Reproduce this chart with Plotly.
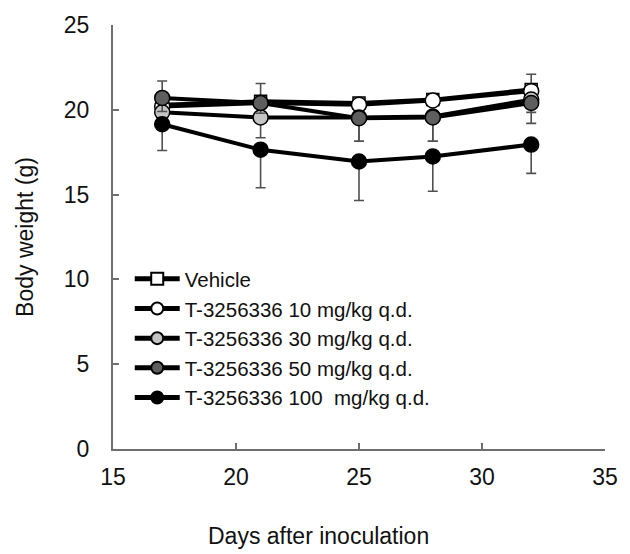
import plotly.graph_objects as go

# Measurement days and mean body weight (g) per group
days = [17, 21, 25, 28, 32]

vehicle = [20.3, 20.5, 20.4, 20.6, 21.2]
t10 = [20.2, 20.4, 20.3, 20.55, 21.1]
t30 = [19.85, 19.55, 19.55, 19.6, 20.6]
t50 = [20.7, 20.4, 19.5, 19.55, 20.4]
t100 = [19.15, 17.65, 16.95, 17.25, 17.95]

# One-sided SD error bars
vehicle_sd_plus = [1.4, 1.05, 0.3, 0.3, 0.9]
t30_sd_minus = [0.9, 1.2, 1.4, 1.45, 1.4]
t50_sd_minus = [0.8, 0.6, 1.35, 1.4, 0.55]
t100_sd_minus = [1.55, 2.25, 2.3, 2.05, 1.7]

names = [
    "Vehicle",
    "T-3256336 10 mg/kg q.d.",
    "T-3256336 30 mg/kg q.d.",
    "T-3256336 50 mg/kg q.d.",
    "T-3256336 100  mg/kg q.d.",
]

x_ticks = [15, 20, 25, 30, 35]
y_ticks = [0, 5, 10, 15, 20, 25]

FONT = "Liberation Sans, Arial, sans-serif"
ERR_COLOR = "#505050"
AXIS_COLOR = "#6e6e6e"

fig = go.Figure()


def add_series(name, y, symbol, fill, size, plus=None, minus=None):
    err = None
    if plus is not None or minus is not None:
        err = dict(
            type="data",
            symmetric=False,
            array=plus if plus is not None else [0] * len(y),
            arrayminus=minus if minus is not None else [0] * len(y),
            color=ERR_COLOR,
            thickness=1.6,
            width=5,
        )
    fig.add_trace(
        go.Scatter(
            x=days,
            y=y,
            name=name,
            mode="lines+markers",
            line=dict(color="black", width=4),
            marker=dict(symbol=symbol, size=size, color=fill,
                        line=dict(color="black", width=1.5)),
            error_y=err,
        )
    )


add_series(names[0], vehicle, "square", "white", 12, plus=vehicle_sd_plus)
add_series(names[1], t10, "circle", "white", 15)
add_series(names[2], t30, "circle", "#c4c4c4", 15, minus=t30_sd_minus)
add_series(names[3], t50, "circle", "#5e5e5e", 15, minus=t50_sd_minus)
add_series(names[4], t100, "circle", "black", 15, minus=t100_sd_minus)

axis_common = dict(
    showgrid=False,
    zeroline=False,
    showline=True,
    linecolor=AXIS_COLOR,
    linewidth=2,
    ticks="inside",
    ticklen=6,
    tickwidth=1.5,
    tickcolor=AXIS_COLOR,
    tickfont=dict(family=FONT, size=23, color="#111"),
)

fig.update_xaxes(
    range=[15, 35],
    tickvals=x_ticks,
    ticktext=[str(v) for v in x_ticks],
    ticklabelstandoff=6,
    **axis_common,
)
fig.update_yaxes(
    range=[0, 25],
    tickvals=y_ticks,
    ticktext=[str(v) for v in y_ticks],
    ticklabelstandoff=17,
    title=dict(text="Body weight (g)", font=dict(family=FONT, size=23, color="#111"),
               standoff=24),
    **axis_common,
)

fig.add_annotation(
    text="Days after inoculation",
    xref="paper", yref="paper",
    x=0.418, y=-0.205,
    xanchor="center", yanchor="middle",
    showarrow=False,
    font=dict(family=FONT, size=23, color="#111"),
)

fig.update_layout(
    width=630,
    height=554,
    margin=dict(l=113, r=24, t=20, b=105),
    paper_bgcolor="white",
    plot_bgcolor="white",
    showlegend=True,
    legend=dict(
        x=0.034, y=0.448,
        xanchor="left", yanchor="top",
        bgcolor="rgba(0,0,0,0)",
        font=dict(family=FONT, size=20.5, color="#111"),
        itemsizing="constant",
        itemwidth=45,
        tracegroupgap=0,
    ),
)

fig.write_html("out.html")
